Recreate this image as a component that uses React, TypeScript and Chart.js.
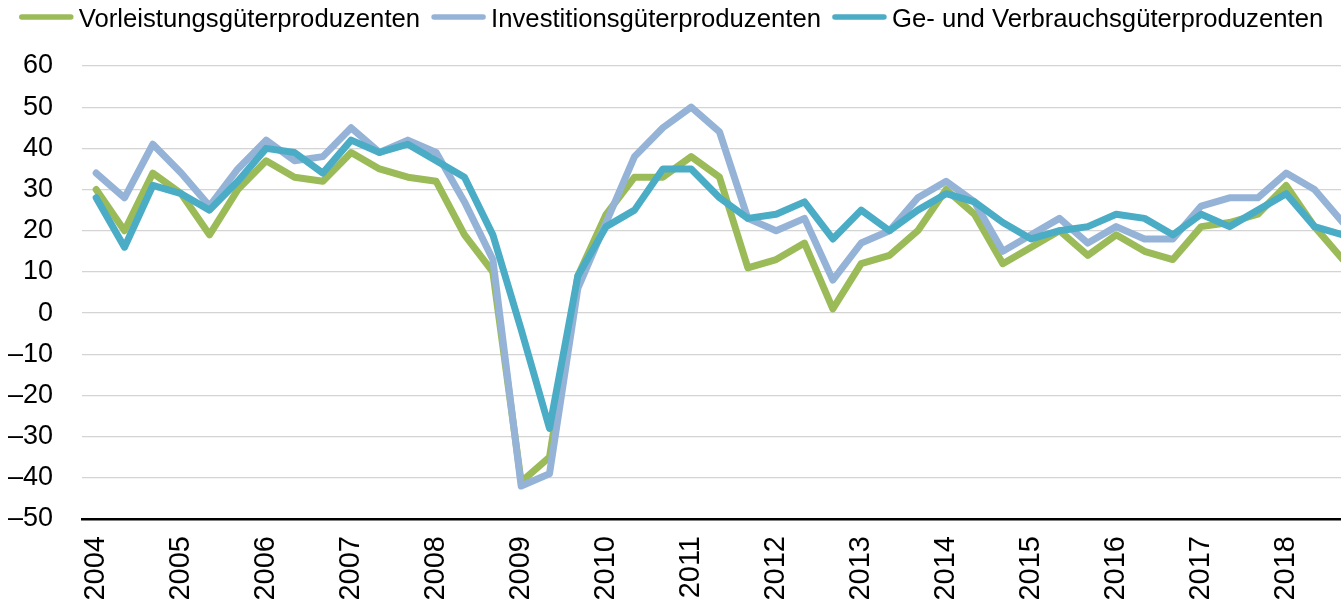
import React, { useEffect, useRef } from "react";
import { Chart, registerables } from "chart.js";

Chart.register(...registerables);

// Three observations per year, 2004–2018
const years = ["2004", "2005", "2006", "2007", "2008", "2009", "2010", "2011", "2012", "2013", "2014", "2015", "2016", "2017", "2018"];
const periods = ["I", "II", "III"];
const categories = years.flatMap((y) => periods.map((p) => `${y} ${p}`));

const seriesNames = [
  "Vorleistungsgüterproduzenten",
  "Investitionsgüterproduzenten",
  "Ge- und Verbrauchsgüterproduzenten",
];

const vorleistung = [
  30, 20, 34, 29, 19, 30, 37, 33, 32, 39, 35, 33, 32, 19, 10,
  -41, -35, 9, 24, 33, 33, 38, 33, 11, 13, 17, 1, 12, 14, 20,
  30, 24, 12, 16, 20, 14, 19, 15, 13, 21, 22, 24, 31, 21, 13,
];
const investition = [
  34, 28, 41, 34, 26, 35, 42, 37, 38, 45, 39, 42, 39, 27, 13,
  -42, -39, 6, 22, 38, 45, 50, 44, 23, 20, 23, 8, 17, 20, 28,
  32, 27, 15, 19, 23, 17, 21, 18, 18, 26, 28, 28, 34, 30, 22,
];
const verbrauch = [
  28, 16, 31, 29, 25, 32, 40, 39, 34, 42, 39, 41, 37, 33, 19,
  -4, -28, 9, 21, 25, 35, 35, 28, 23, 24, 27, 18, 25, 20, 25,
  29, 27, 22, 18, 20, 21, 24, 23, 19, 24, 21, 25, 29, 21, 19,
];

const yMin = -50;
const yMax = 60;
const yStep = 10;

const colors = ["#9BBB59", "#95B3D7", "#4BACC6"];

const legendPlugin = {
  id: "customLegend",
  afterDraw(chart: any) {
    const ctx = chart.ctx as CanvasRenderingContext2D;
    ctx.save();
    ctx.font = '25.7px "Liberation Sans", Arial, sans-serif';
    const items = chart.data.datasets.map((ds: any) => ({
      label: ds.label as string,
      color: ds.borderColor as string,
      w: ctx.measureText(ds.label).width,
    }));
    const lineLen = 55;
    const gap = 5;
    const itemGap = 11;
    const total =
      items.reduce((s: number, it: any) => s + lineLen + gap + it.w, 0) +
      itemGap * (items.length - 1);
    let x = 671 - total / 2;
    const yLine = 17;
    const yText = 27;
    for (const it of items) {
      ctx.strokeStyle = it.color;
      ctx.lineWidth = 5.5;
      ctx.lineCap = "round";
      ctx.beginPath();
      ctx.moveTo(x + 3, yLine);
      ctx.lineTo(x + lineLen - 3, yLine);
      ctx.stroke();
      x += lineLen + gap;
      ctx.fillStyle = "#000";
      ctx.textBaseline = "alphabetic";
      ctx.textAlign = "left";
      ctx.fillText(it.label, x, yText);
      x += it.w + itemGap;
    }
    ctx.restore();
  },
};

export default function App() {
  const canvasRef = useRef<HTMLCanvasElement | null>(null);

  useEffect(() => {
    const canvas = canvasRef.current;
    if (!canvas) return;
    const values = [vorleistung, investition, verbrauch];
    const chart = new Chart(canvas, {
      type: "line",
      data: {
        labels: categories,
        datasets: seriesNames.map((name, i) => ({
          label: name,
          data: values[i],
          borderColor: colors[i],
          backgroundColor: colors[i],
          borderWidth: 7,
          pointRadius: 0,
          pointHoverRadius: 0,
          tension: 0,
          fill: false,
          borderJoinStyle: "round" as const,
          borderCapStyle: "round" as const,
          order: 2 - i,
        })),
      },
      options: {
        animation: false,
        responsive: false,
        devicePixelRatio: 1,
        layout: { padding: { top: 66, right: 0, left: 0, bottom: 0 } },
        plugins: {
          legend: { display: false },
          tooltip: { enabled: false },
        },
        scales: {
          x: {
            type: "category",
            offset: true,
            grid: { display: false, drawTicks: false },
            border: { display: true, color: "#000", width: 2.5 },
            ticks: {
              autoSkip: false,
              minRotation: 90,
              maxRotation: 90,
              padding: 17,
              color: "#000",
              font: { family: '"Liberation Sans", Arial, sans-serif', size: 29 },
              callback: (_v: any, idx: number) =>
                idx % periods.length === 0 ? years[idx / periods.length] : "",
            },
            afterFit: (scale: any) => {
              scale.height = 85;
              scale.paddingLeft = 0;
              scale.paddingRight = 0;
            },
          },
          y: {
            min: yMin,
            max: yMax,
            border: { display: false },
            grid: {
              drawTicks: false,
              lineWidth: 1.3,
              color: (c: any) =>
                c.tick && c.tick.value === yMin ? "rgba(0,0,0,0)" : "#D4D4D4",
            },
            ticks: {
              stepSize: yStep,
              padding: 29,
              color: "#000",
              font: { family: '"Liberation Sans", Arial, sans-serif', size: 27 },
              callback: (v: any) => (Number(v) < 0 ? "–" + Math.abs(Number(v)) : String(v)),
            },
            afterFit: (scale: any) => {
              scale.width = 82;
            },
          },
        },
      },
      plugins: [legendPlugin],
    });
    return () => chart.destroy();
  }, []);

  return (
    <div
      style={{
        position: "absolute",
        left: 0,
        top: 0,
        width: 1341,
        height: 604,
        overflow: "hidden",
        background: "#fff",
      }}
    >
      <canvas ref={canvasRef} width={1357} height={604} style={{ display: "block", width: 1357, height: 604 }} />
    </div>
  );
}
